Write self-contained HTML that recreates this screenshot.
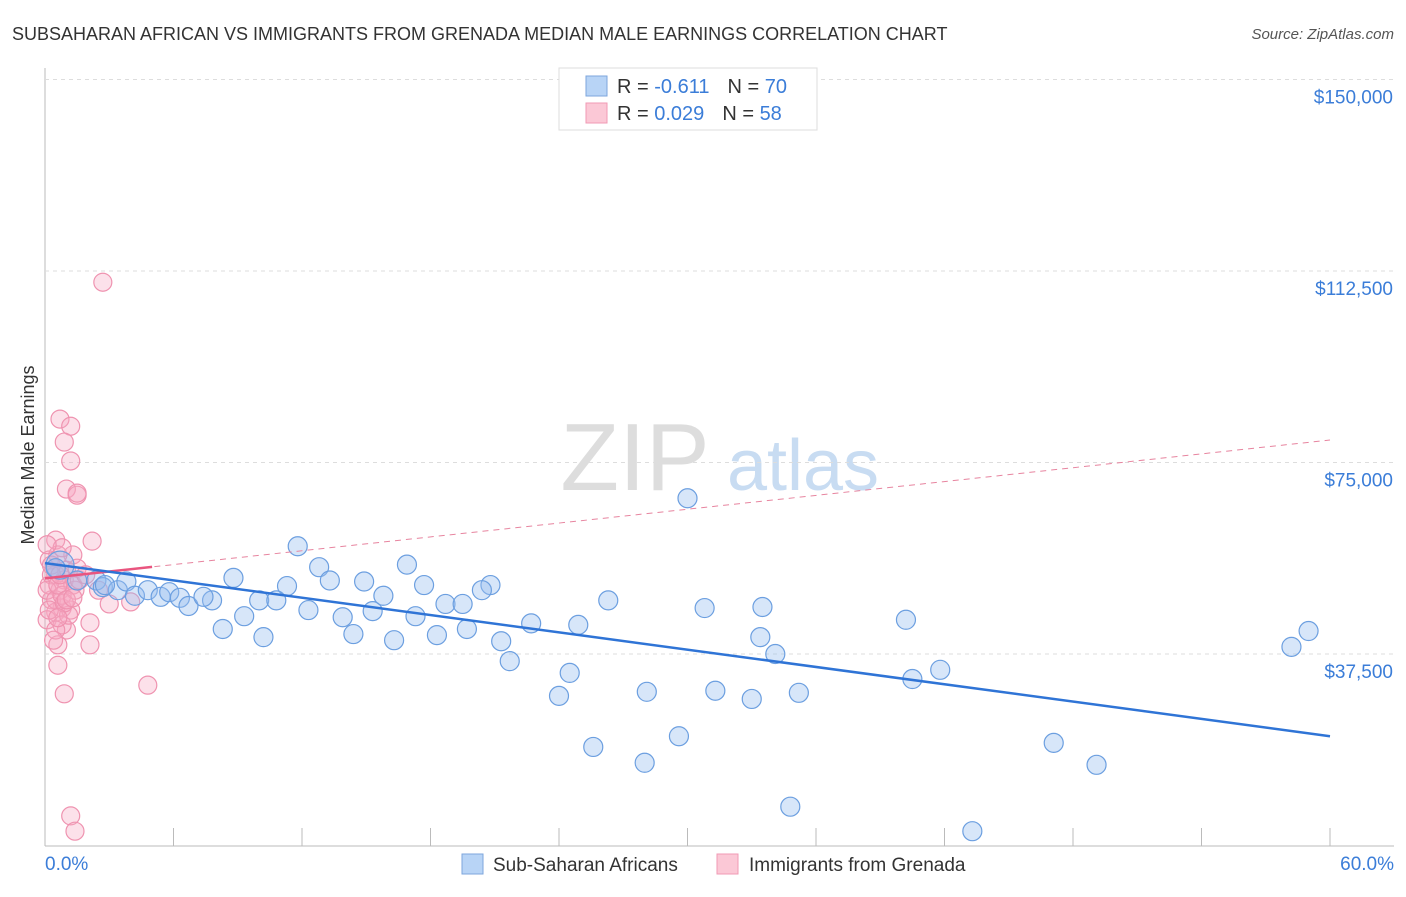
<!DOCTYPE html>
<html><head><meta charset="utf-8"><style>
body{margin:0;background:#fff;font-family:"Liberation Sans",sans-serif;}
svg text{font-family:"Liberation Sans",sans-serif;}
</style></head><body>
<svg id="c" width="1406" height="892">
<text x="12" y="40" font-size="18" fill="#333">SUBSAHARAN AFRICAN VS IMMIGRANTS FROM GRENADA MEDIAN MALE EARNINGS CORRELATION CHART</text>
<text x="1394" y="39" font-size="15" fill="#555" font-style="italic" text-anchor="end">Source: ZipAtlas.com</text>
<text x="0" y="0" transform="translate(34,455) rotate(-90)" font-size="18" fill="#333" text-anchor="middle">Median Male Earnings</text>
<g><text x="635" y="490" font-size="96" fill="#ddd" font-family="Liberation Serif" text-anchor="middle">ZIP</text><text x="803" y="490" font-size="72" fill="#c8dcf2" text-anchor="middle">atlas</text></g>
<g id="grid"></g><g id="pts"></g><g id="lines"></g>
<g>
<rect x="559" y="68" width="258" height="62" fill="#fff" stroke="#ddd"/>
<rect x="586" y="76" width="21" height="20" fill="#b8d4f6" stroke="#7ea6dc"/>
<rect x="586" y="103" width="21" height="20" fill="#fbc8d6" stroke="#f09ab4"/>
<text x="617" y="93" font-size="20" fill="#333">R = <tspan fill="#3b7dd8">-0.611</tspan><tspan dx="18">N = </tspan><tspan fill="#3b7dd8">70</tspan></text>
<text x="617" y="120" font-size="20" fill="#333">R = <tspan fill="#3b7dd8">0.029</tspan><tspan dx="18">N = </tspan><tspan fill="#3b7dd8">58</tspan></text>
</g>
<g>
<rect x="462" y="854" width="21" height="20" fill="#b8d4f6" stroke="#7ea6dc"/>
<text x="493" y="871" font-size="19" fill="#333">Sub-Saharan Africans</text>
<rect x="717" y="854" width="21" height="20" fill="#fbc8d6" stroke="#f09ab4"/>
<text x="749" y="871" font-size="19" fill="#333">Immigrants from Grenada</text>
</g>
<text x="45" y="870" font-size="19" fill="#3b7dd8">0.0%</text>
<text x="1394" y="870" font-size="19" fill="#3b7dd8" text-anchor="end">60.0%</text>
</svg>
<script>
const yTicks=[37500,75000,112500,150000];
const yTickLabels=["$37,500","$75,000","$112,500","$150,000"];
const blueX=[11.8,12.8,13.3,14.9,16.9,17.7,20.8,20.4,30.0,26.3,30.8,33.5,22.7,24.9,8.8,10.0,11.3,7.8,9.3,10.8,12.3,13.9,15.3,15.8,17.3,18.7,19.5,8.3,10.2,14.4,16.3,18.3,19.7,21.3,21.7,24.5,24.0,25.6,28.0,28.1,29.6,31.3,33.0,33.4,34.1,35.2,34.8,40.2,40.5,41.8,47.1,49.1,43.3,58.2,59.0,0.7,1.5,2.4,2.7,3.4,3.8,4.2,4.8,5.4,5.8,6.3,6.7,7.4,2.8,0.5];
const blueY=[58.6,54.5,51.9,51.7,55.0,51.0,51.0,50.0,68.0,48.0,46.5,46.7,43.5,43.2,52.4,48.0,50.8,48.0,44.9,48.0,46.1,44.7,45.9,48.9,44.9,47.3,47.3,42.4,40.8,41.4,40.2,41.2,42.4,40.0,36.1,33.8,29.3,19.3,16.2,30.1,21.4,30.3,28.7,40.8,37.5,29.9,7.6,44.2,32.6,34.4,20.1,15.8,2.8,38.9,42.0,54.9,51.9,51.9,50.6,50.0,51.7,48.9,50.0,48.7,49.6,48.5,46.9,48.7,51.0,54.3];
const pinkX=[2.7,0.7,1.2,0.9,1.2,1.0,1.5,1.5,0.5,2.2,1.3,0.9,2.5,3.0,4.0,2.1,2.1,0.6,0.8,1.0,0.6,0.9,4.8,1.2,1.4,0.2,0.5,0.7,0.3,0.5,0.1,0.8,0.2,1.0,1.3,1.2,0.6,0.8,0.3,0.1,0.5,0.8,1.1,0.5,0.2,1.4,1.6,0.6,0.9,0.3,0.1,0.7,1.0,1.3,0.6,0.4,1.5,1.9];
const pinkY=[110.3,83.5,82.1,79.0,75.3,69.8,68.6,69.0,59.8,59.6,56.9,52.0,50.0,47.3,47.7,43.6,39.3,39.3,46.5,42.2,35.3,29.7,31.4,5.8,2.8,55.9,53.0,50.0,48.1,45.7,44.2,43.2,51.0,53.9,51.0,46.1,56.9,58.3,53.0,50.0,48.1,49.0,45.1,42.2,46.1,50.0,52.0,51.0,47.5,54.9,58.9,53.0,48.1,48.5,44.6,40.2,54.3,53.0];
const blueTrend=[55.3,21.4];
const pinkTrend=[52.3,79.4];
const NS='http://www.w3.org/2000/svg';
const X0=45,X1=1330,Y0=845.5,YK=191.5/37.5;
function sx(p){return X0+(X1-X0)*p/60;}
function sy(k){return Y0-k*YK;}
function mk(t,a,parent){const e=document.createElementNS(NS,t);for(const k in a)e.setAttribute(k,a[k]);parent.appendChild(e);return e;}
const g=document.getElementById('grid');
let ax=mk('line',{x1:X0,y1:68,x2:X0,y2:846,stroke:'#bbb'},g);


let bx=mk('line',{x1:X0,y1:846,x2:1394,y2:846,stroke:'#bbb'},g);


for(let i=1;i<=10;i++){const t=mk('line',{x1:sx(i*6),x2:sx(i*6),y1:828,y2:846,stroke:'#bbb'},g);

}
yTicks.forEach((v,i)=>{const y=sy(v/1000);
const l=mk('line',{x1:X0,x2:1394,y1:y,y2:y,stroke:'#ddd','stroke-dasharray':'4,4'},g);


const t=mk('text',{x:1393,y:y+24,'font-size':19,fill:'#3b7dd8','text-anchor':'end'},g);t.textContent=yTickLabels[i];

});
const P=document.getElementById('pts');
pinkX.forEach((x,i)=>{const c=mk('circle',{cx:sx(x),cy:sy(pinkY[i]),r:9,fill:'rgba(246,170,196,0.35)',stroke:'#ef93b0','stroke-width':1.2},P);

});
blueX.forEach((x,i)=>{const c=mk('circle',{cx:sx(x),cy:sy(blueY[i]),r:i==55?14:9.5,fill:'rgba(150,190,240,0.38)',stroke:'#6c9fe0','stroke-width':1.2},P);

});
const L=document.getElementById('lines');
const pd=mk('line',{x1:sx(0),y1:sy(pinkTrend[0]),x2:sx(60),y2:sy(pinkTrend[1]),stroke:'#e7849f','stroke-width':1,'stroke-dasharray':'6,5'},L);


const pe=5;
const ps=mk('line',{x1:sx(0),y1:sy(pinkTrend[0]),x2:sx(pe),y2:sy(pinkTrend[0]+(pinkTrend[1]-pinkTrend[0])*pe/60),stroke:'#e9557f','stroke-width':2.5},L);


const bl=mk('line',{x1:sx(0),y1:sy(blueTrend[0]),x2:sx(60),y2:sy(blueTrend[1]),stroke:'#2f74d6','stroke-width':2.5},L);


</script>
</body></html>
